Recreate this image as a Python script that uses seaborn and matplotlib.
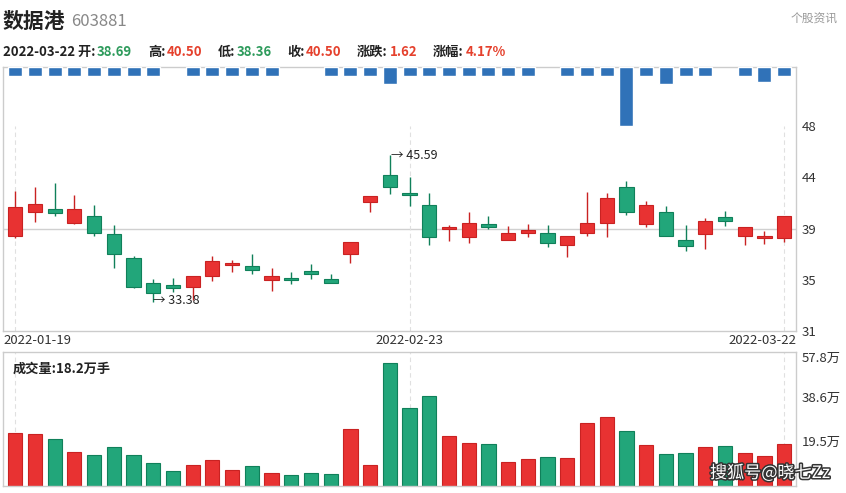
import matplotlib
matplotlib.use("Agg")
import matplotlib.pyplot as plt
import matplotlib.patheffects as pe
import matplotlib.transforms as mtrans
import numpy as np
import pandas as pd
import seaborn as sns

sns.set_theme(style="white")
plt.rcParams["font.family"] = ["Noto Sans CJK SC", "DejaVu Sans"]

# --- data ---
date_labels = ["2022-01-19", "2022-02-23", "2022-03-22"]
date_pos = [0, 20, 39]

opens = [38.90, 40.87, 41.12, 39.93, 40.54, 39.04, 37.03, 34.95, 34.79, 34.62,
         35.56, 36.47, 36.39, 35.20, 35.30, 35.98, 35.31, 37.36, 41.70, 43.91,
         42.44, 41.42, 39.49, 38.82, 39.87, 38.55, 39.13, 39.13, 38.10, 39.10,
         39.93, 42.91, 39.87, 40.84, 38.52, 39.04, 40.45, 38.91, 38.74, 38.69]
closes = [41.28, 41.53, 40.79, 41.12, 39.10, 37.39, 34.62, 34.12, 34.59, 35.56,
          36.80, 36.67, 36.03, 35.56, 35.26, 35.73, 34.95, 38.35, 42.19, 42.91,
          42.25, 38.77, 39.53, 39.93, 39.60, 39.13, 39.38, 38.27, 38.88, 39.96,
          42.03, 40.84, 41.42, 38.91, 38.05, 40.09, 40.09, 39.60, 38.88, 40.50]
highs = [42.61, 42.94, 43.25, 42.28, 41.45, 39.79, 37.25, 35.28, 35.37, 35.60,
         37.22, 36.89, 37.39, 36.20, 35.89, 36.53, 35.70, 38.35, 42.19, 45.59,
         43.74, 42.42, 39.79, 40.90, 40.54, 39.71, 39.87, 39.79, 38.88, 42.50,
         42.42, 43.41, 41.75, 41.34, 39.76, 40.34, 40.95, 39.60, 39.27, 40.50]
lows = [38.68, 40.07, 40.56, 39.90, 38.91, 36.20, 34.60, 33.38, 34.21, 33.57,
        35.17, 35.92, 35.70, 34.29, 34.87, 35.31, 34.95, 36.61, 40.90, 42.33,
        41.37, 38.10, 38.44, 38.33, 39.43, 38.55, 38.77, 37.94, 37.16, 38.91,
        38.82, 40.59, 39.65, 38.91, 37.61, 37.77, 39.68, 38.10, 38.19, 38.36]

# volume in 万手
volume = [22.8, 22.3, 20.2, 14.6, 13.3, 16.7, 13.3, 9.8, 6.4, 8.9,
          11.1, 6.8, 8.5, 5.5, 4.6, 5.5, 5.1, 24.5, 8.9, 53.0,
          33.6, 38.8, 21.5, 18.5, 18.0, 10.2, 11.5, 12.4, 12.0, 27.1,
          29.7, 23.6, 17.6, 13.7, 14.1, 16.7, 17.2, 14.1, 12.8, 18.2]

# blue indicator bars hanging from the top (relative size, None = no bar)
flow = [1, 1, 1, 1, 1, 1, 1, 1, None, 1,
        1, 1, 1, 1, None, None, 1, 1, 1, 1.85,
        1, 1, 1, 1, 1, 1, 1, None, 1, 1,
        1, 6.32, 1, 1.85, 1, 1, None, 1, 1.64, 1]

price_ticks = [31, 35.25, 39.5, 43.75, 48]
price_tick_labels = ["31", "35", "39", "44", "48"]
vol_ticks = [19.5, 38.6, 57.8]
vol_tick_labels = ["19.5万", "38.6万", "57.8万"]

RED = "#e83232"
RED_EDGE = "#c92222"
GREEN = "#22a67a"
GREEN_EDGE = "#10805a"
BLUE = "#3072b8"
FRAME = "#cccccc"
TXT = "#333333"

df = pd.DataFrame({"open": opens, "close": closes, "high": highs, "low": lows,
                   "volume": volume})
df["idx"] = np.arange(len(df))
df["up"] = np.where(df["close"] > df["open"], "up", "down")

fig = plt.figure(figsize=(8.46, 4.93), dpi=100)
W, H = 846, 493
ax = fig.add_axes([3 / W, 1 - 331 / H, 793 / W, 264 / H])
axv = fig.add_axes([3 / W, 1 - 486 / H, 793 / W, 133.7 / H])

xlim = (-0.62, 39.6)

# blue bars hanging from the top (own axis, inverted)
axf = ax.twinx()
fx = [i for i, v in enumerate(flow) if v is not None]
fv = [v for v in flow if v is not None]
axf.bar(fx, fv, width=0.71, color=BLUE, zorder=3)
axf.set_ylim(28.1, 0)
axf.set_xlim(*xlim)
axf.axis("off")

# --- price panel ---
ax.axhline(39.5, color="#d0d0d0", lw=1, zorder=0)
ax.vlines(date_pos, 31, 48, color="#e0e0e0", lw=0.8, ls=(0, (4, 3)), zorder=0)
for p in date_pos:
    axv.axvline(p, color="#e0e0e0", lw=0.8, ls=(0, (4, 3)), zorder=0)

for _, r in df.iterrows():
    up = r["up"] == "up"
    fc = RED if up else GREEN
    ec = RED_EDGE if up else GREEN_EDGE
    ax.vlines(r["idx"], r["low"], r["high"], color=ec, lw=1, zorder=2)
    body = max(abs(r["close"] - r["open"]), 0.1)
    ax.bar(r["idx"], body, bottom=min(r["open"], r["close"]), width=0.72,
           color=fc, edgecolor=ec, linewidth=0.8, zorder=3)

ax.set_xlim(*xlim)
ax.set_ylim(31, 52.9)
ax.set_xticks([])
ax.yaxis.tick_right()
ax.set_yticks(price_ticks)
ax.set_yticklabels(price_tick_labels)
ax.tick_params(axis="y", length=0, labelsize=9.5, colors=TXT, pad=4)
for s in ax.spines.values():
    s.set_color(FRAME)
    s.set_linewidth(1)

# date labels under the price panel
dtrans = mtrans.blended_transform_factory(ax.transData, fig.transFigure)
ax.text(xlim[0], 1 - 341 / H, date_labels[0], transform=dtrans, fontsize=9.5,
        color=TXT, ha="left", va="center")
ax.text(date_pos[1], 1 - 341 / H, date_labels[1], transform=dtrans, fontsize=9.5,
        color=TXT, ha="center", va="center")
ax.text(xlim[1], 1 - 341 / H, date_labels[2], transform=dtrans, fontsize=9.5,
        color=TXT, ha="right", va="center")

# extreme labels
ax.text(19.05, 45.55, "→ 45.59", fontsize=9, color="#222222", va="center", ha="left")
ax.text(7.0, 33.5, "→ 33.38", fontsize=9, color="#222222", va="center", ha="left")

# --- volume panel ---
sns.barplot(data=df, x="idx", y="volume", hue="up", native_scale=True,
            palette={"up": RED, "down": GREEN}, width=0.72, dodge=False,
            saturation=1, legend=False, ax=axv, zorder=2)
for patch in axv.patches:
    fc = matplotlib.colors.to_hex(patch.get_facecolor())
    patch.set_edgecolor(RED_EDGE if fc == RED else GREEN_EDGE)
    patch.set_linewidth(0.8)
axv.set_xlim(*xlim)
axv.set_ylim(0, 57.8)
axv.set_xlabel("")
axv.set_ylabel("")
axv.set_xticks([])
axv.yaxis.tick_right()
axv.set_yticks(vol_ticks)
axv.set_yticklabels(vol_tick_labels)
axv.tick_params(axis="y", length=0, labelsize=9.5, colors=TXT, pad=4)
axv.get_yticklabels()[2].set_va("top")
for s in axv.spines.values():
    s.set_color(FRAME)
    s.set_linewidth(1)
axv.text(0.012, 0.88, "成交量:18.2万手", transform=axv.transAxes, fontsize=9.5,
         fontweight="bold", color="#222222", va="center", ha="left")

# --- header ---
fig.text(3 / W, 1 - 21 / H, "数据港", fontsize=15, fontweight="bold",
         color="#222222", va="center", ha="left")
fig.text(71 / W, 1 - 21 / H, "603881", fontsize=12, color="#888888",
         va="center", ha="left")
fig.text(838 / W, 1 - 19 / H, "个股资讯", fontsize=8.5, color="#999999",
         va="center", ha="right")

HG = "#2e9b5c"
HR = "#e5412d"
header = [(3, "2022-03-22 开:", "#222222"), (96.5, "38.69", HG),
          (148, "高:", "#222222"), (166.5, "40.50", HR),
          (218, "低:", "#222222"), (236.5, "38.36", HG),
          (287, "收:", "#222222"), (305.5, "40.50", HR),
          (357, "涨跌:", "#222222"), (390, "1.62", HR),
          (433, "涨幅:", "#222222"), (466, "4.17%", HR)]
for x, t, c in header:
    fig.text(x / W, 1 - 52 / H, t, fontsize=9.5, fontweight="bold", color=c,
             va="center", ha="left")

# watermark
fig.text(710 / W, 1 - 473 / H, "搜狐号@晓七Zz", fontsize=12.3, color="white",
         va="center", ha="left",
         path_effects=[pe.withStroke(linewidth=2.2, foreground="#333333")])

fig.savefig("out.png", dpi=100)
